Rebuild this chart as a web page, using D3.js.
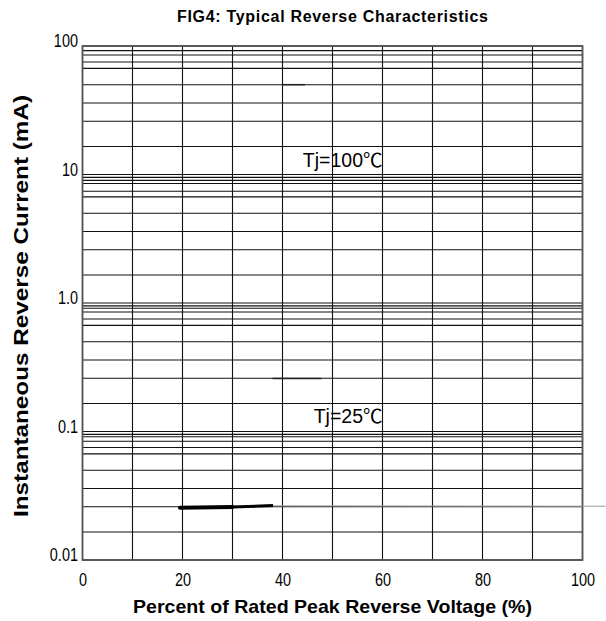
<!DOCTYPE html>
<html><head><meta charset="utf-8">
<script src="https://cdn.jsdelivr.net/npm/d3@7"></script>
<style>
body{margin:0;background:#fff;}
svg{display:block;}
</style></head>
<body><svg id="c" width="606" height="621"></svg>
<script>
// ---- data ----
const xTicks = [0, 20, 40, 60, 80, 100];
const xGrid = [0, 10, 20, 30, 40, 50, 60, 70, 80, 90, 100];
const yTickValues = [100, 10, 1, 0.1, 0.01];
const yTickLabels = ["100", "10", "1.0", "0.1", "0.01"];
const yGrid = [100, 92, 85, 75, 67, 50, 36, 26, 16.5,
  10, 9.5, 9.0, 8.5, 7.4, 6.7, 5.0, 3.6, 2.6, 1.65,
  1.0, 0.95, 0.91, 0.85, 0.75, 0.67, 0.5, 0.36, 0.26, 0.165,
  0.1, 0.095, 0.091, 0.084, 0.075, 0.067, 0.05, 0.036, 0.026, 0.0165, 0.01];
// Tj=100 C curve fragment
const tj100X = [40.1, 44.5];
const tj100Y = [50, 50];
// Tj=25 C curve fragment
const tj25X = [38.0, 47.8];
const tj25Y = [0.258, 0.258];
// low curve (thick part)
const lowThickX = [19.5, 30, 38.1];
const lowThickY = [0.0255, 0.0259, 0.0265];
// low curve (thin grey continuation)
const lowThinX = [38.1, 104.6];
const lowThinY = [0.0264, 0.0262];

const title = "FIG4:  Typical Reverse Characteristics";
const xTitle = "Percent of Rated Peak Reverse Voltage (%)";
const yTitle = "Instantaneous Reverse Current (mA)";
const labels = [{t: "Tj=100℃", x: 60, y: 11.4}, {t: "Tj=25℃", x: 60, y: 0.1175}];

// ---- drawing ----
const svg = d3.select("#c");
const L = 82.5, R = 582.5, T = 46, B = 560;
const x = d3.scaleLinear().domain([0, 100]).range([L, R]);
const y = d3.scaleLog().domain([0.01, 100]).range([B, T]);

const sans = "'Liberation Sans',Arial,'Noto Sans CJK SC',sans-serif";

// horizontal grid
svg.append("g").selectAll("line").data(yGrid).join("line")
  .attr("x1", L).attr("x2", R)
  .attr("y1", d => y(d)).attr("y2", d => y(d))
  .attr("stroke", "#111").attr("stroke-width", 1.1);
// vertical grid
svg.append("g").selectAll("line").data(xGrid).join("line")
  .attr("x1", d => x(d)).attr("x2", d => x(d))
  .attr("y1", T).attr("y2", B)
  .attr("stroke", "#111").attr("stroke-width", 1.1);
// frame
svg.append("rect").attr("x", L).attr("y", T).attr("width", R - L).attr("height", B - T)
  .attr("fill", "none").attr("stroke", "#555").attr("stroke-width", 1.8);

// axes via d3 (domain hidden, labels only)
const xAxis = d3.axisBottom(x).tickValues(xTicks).tickSize(0).tickPadding(13).tickFormat(d3.format("d"));
const gx = svg.append("g").attr("transform", `translate(0,${B})`).call(xAxis);
gx.select(".domain").remove();
gx.selectAll("text").attr("font-family", sans).attr("font-size", 19).attr("fill", "#000")
  .attr("transform", "scale(0.76,1)");

const yAxis = d3.axisLeft(y).tickValues(yTickValues).tickSize(0).tickPadding(6)
  .tickFormat((d, i) => yTickLabels[i]);
const gy = svg.append("g").attr("transform", `translate(${L},0)`).call(yAxis);
gy.select(".domain").remove();
gy.selectAll("text").attr("font-family", sans).attr("font-size", 19).attr("fill", "#000")
  .attr("dy", "0.05em").attr("transform", "scale(0.76,1)");

// curves
const line = d3.line().x(d => x(d[0])).y(d => y(d[1]));
svg.append("path").datum(d3.zip(lowThinX, lowThinY)).attr("d", line)
  .attr("fill", "none").attr("stroke", "#999").attr("stroke-width", 1);
svg.append("path").datum(d3.zip(lowThickX.slice(0, 2), lowThickY.slice(0, 2))).attr("d", line)
  .attr("fill", "none").attr("stroke", "#000").attr("stroke-width", 4).attr("stroke-linecap", "round");
svg.append("path").datum(d3.zip(lowThickX.slice(1), lowThickY.slice(1))).attr("d", line)
  .attr("fill", "none").attr("stroke", "#000").attr("stroke-width", 3);
svg.append("path").datum(d3.zip(tj100X, tj100Y)).attr("d", line)
  .attr("fill", "none").attr("stroke", "#222").attr("stroke-width", 1.5);
svg.append("path").datum(d3.zip(tj25X, tj25Y)).attr("d", line)
  .attr("fill", "none").attr("stroke", "#222").attr("stroke-width", 1.5);

// curve labels
svg.append("g").selectAll("text").data(labels).join("text")
  .attr("x", d => x(d.x)).attr("y", d => y(d.y)).attr("text-anchor", "end")
  .attr("font-family", sans).attr("font-size", 19.5).attr("fill", "#000")
  .text(d => d.t);

// titles
svg.append("text").attr("x", 332.5).attr("y", 22).attr("text-anchor", "middle")
  .attr("font-family", sans).attr("font-weight", "bold").attr("font-size", 16)
  .attr("textLength", 311).attr("lengthAdjust", "spacing").text(title);
svg.append("text").attr("x", 332.5).attr("y", 613).attr("text-anchor", "middle")
  .attr("font-family", sans).attr("font-weight", "bold").attr("font-size", 19)
  .attr("textLength", 399).attr("lengthAdjust", "spacingAndGlyphs").text(xTitle);
svg.append("text").attr("transform", "translate(28,306) rotate(-90)").attr("text-anchor", "middle")
  .attr("font-family", sans).attr("font-weight", "bold").attr("font-size", 21)
  .attr("textLength", 422).attr("lengthAdjust", "spacingAndGlyphs").text(yTitle);
</script></body></html>
